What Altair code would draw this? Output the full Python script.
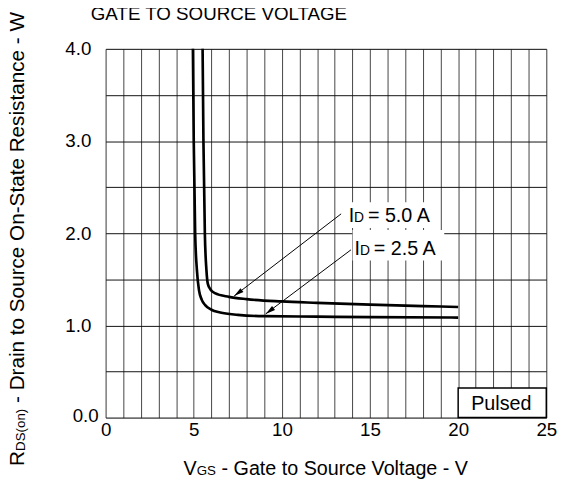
import altair as alt
import pandas as pd

# ---- data ----
vgs_25 = [4.95, 5.0, 5.08, 5.18, 5.3, 5.45, 5.65, 6.0, 6.5, 7.5, 9.0, 12.0, 15.0, 20.0]
rds_25 = [4.05, 3.0, 2.0, 1.6, 1.38, 1.28, 1.22, 1.17, 1.14, 1.115, 1.10, 1.095, 1.09, 1.085]
vgs_50 = [5.5, 5.55, 5.63, 5.72, 5.8, 5.95, 6.2, 7.0, 8.0, 10.0, 12.0, 15.0, 18.0, 20.0]
rds_50 = [4.05, 3.0, 2.0, 1.6, 1.45, 1.39, 1.35, 1.31, 1.285, 1.26, 1.245, 1.225, 1.21, 1.20]

x_grid = list(range(0, 26))
y_grid = [0, 0.5, 1, 1.5, 2, 2.5, 3, 3.5, 4]

# annotation anchors (data units)
arrow_x = [13.36, 13.92]
arrow_y = [2.21, 1.82]
arrow_x2 = [7.29, 9.08]
arrow_y2 = [1.318, 1.125]
arrow_angle = [232.6, 233.1]

label_names = ["5.0 A", "2.5 A"]
label_x = [13.79, 14.12]
label_y = [2.12, 1.768]
box_x = [13.68, 14.01]
box_x2 = [18.82, 19.21]
box_y = [2.337, 2.036]
box_y2 = [2.058, 1.704]

curves = pd.DataFrame(
    [{"vgs": v, "rds": r, "id": "2.5"} for v, r in zip(vgs_25, rds_25)]
    + [{"vgs": v, "rds": r, "id": "5.0"} for v, r in zip(vgs_50, rds_50)]
)
arrows = pd.DataFrame({"x": arrow_x, "y": arrow_y, "x2": arrow_x2, "y2": arrow_y2, "ang": arrow_angle})
labels = pd.DataFrame({"name": label_names, "x": label_x, "y": label_y,
                       "bx": box_x, "bx2": box_x2, "by": box_y, "by2": box_y2})
pulsed = pd.DataFrame({"x": [20], "x2": [25], "y": [0], "y2": [0.32], "tx": [22.45], "ty": [0.086], "t": ["Pulsed"]})
zero_label = pd.DataFrame({"x": [0], "y": [0], "t": ["0.0"]})

FONT = "Liberation Sans"
W, H = 447, 374

xs = alt.Scale(domain=[0, 25], nice=False, zero=False)
ys = alt.Scale(domain=[0, 4], nice=False, zero=False)
x_axis = alt.Axis(
    values=x_grid, grid=True, gridColor="#444", gridWidth=1, ticks=False, domain=False,
    labelExpr="datum.value % 5 == 0 ? datum.label : ''", title=None, labelOverlap=False,
    labelFont=FONT, labelFontSize=19, labelColor="black", labelPadding=3, labelFlush=False)
y_axis = alt.Axis(
    values=y_grid, grid=True, gridColor="#111", gridWidth=1, ticks=False, domain=False,
    labelExpr="datum.value % 1 == 0 && datum.value > 0 ? format(datum.value, '.1f') : ''", title=None,
    labelOverlap=False, labelFont=FONT, labelFontSize=19, labelColor="black", labelPadding=15, labelFlush=False)

def X(f):
    return alt.X(f, type="quantitative", scale=xs, axis=x_axis)

def Y(f):
    return alt.Y(f, type="quantitative", scale=ys, axis=y_axis)

base = alt.Chart(curves)

lines = base.mark_line(color="black", strokeWidth=2.7, interpolate="monotone", clip=True).encode(
    x=X("vgs"), y=Y("rds"), detail="id:N"
)

boxes = alt.Chart(labels).mark_rect(fill="white").encode(
    x=X("bx"), x2="bx2", y=Y("by"), y2="by2"
)
txt_I = alt.Chart(labels).mark_text(text="I", font=FONT, fontSize=20, align="left", baseline="alphabetic", color="black").encode(
    x=X("x"), y=Y("y"))
txt_D = alt.Chart(labels).mark_text(text="D", font=FONT, fontSize=14, align="left", baseline="alphabetic", dx=5.5, color="black").encode(
    x=X("x"), y=Y("y"))
txt_rest = alt.Chart(labels).transform_calculate(lab="'= ' + datum.name").mark_text(
    font=FONT, fontSize=20, align="left", baseline="alphabetic", dx=19.5, color="black").encode(
    x=X("x"), y=Y("y"), text=alt.Text("lab:N"))

arrow_lines = alt.Chart(arrows).mark_rule(color="black", strokeWidth=1).encode(
    x=X("x"), y=Y("y"), x2="x2", y2="y2")
arrow_heads = alt.Chart(arrows).mark_point(
    shape="M0,0 L-0.5,2 L0.5,2 Z", filled=True, color="black", opacity=1, size=100, strokeWidth=0
).encode(x=X("x2"), y=Y("y2"), angle=alt.Angle("ang:Q", scale=None))

pbox = alt.Chart(pulsed).mark_rect(fill="white", stroke="black", strokeWidth=1.5).encode(
    x=X("x"), x2="x2", y=Y("y"), y2="y2")
ptxt = alt.Chart(pulsed).mark_text(font=FONT, fontSize=20, align="center", baseline="alphabetic", color="black").encode(
    x=X("tx"), y=Y("ty"), text="t:N")

zlab = alt.Chart(zero_label).mark_text(font=FONT, fontSize=19, align="right", baseline="middle",
                                       dx=-7, dy=-2, color="black").encode(x=X("x"), y=Y("y"), text="t:N")

# titles built from pieces (with subscripts)
one = pd.DataFrame({"k": [0]})
def piece(text, size, x, y, dx=0, dy=0, angle=0):
    return alt.Chart(one).mark_text(text=text, font=FONT, fontSize=size, align="left", baseline="alphabetic",
                                    dx=dx, dy=dy, angle=angle, color="black").encode(x=alt.value(x), y=alt.value(y))

xt_x, xt_y = 186 - 107, 478 - 46
xtitle = [
    piece("V", 20, xt_x, xt_y),
    piece("GS", 13.5, xt_x, xt_y, dx=13.4, dy=0.5),
    piece("- Gate to Source Voltage - V", 20, xt_x, xt_y, dx=38.6),
]
yt_x, yt_y = 24 - 107, 469 - 46
ytitle = [
    piece("R", 21, yt_x, yt_y, angle=270),
    piece("DS(on)", 13.5, yt_x, yt_y, dx=15.2, dy=0.8, angle=270),
    piece("- Drain to Source On-State Resistance - W", 21, yt_x, yt_y, dx=63.8, angle=270),
]
title = piece("GATE TO SOURCE VOLTAGE", 19, 92 - 107, 17 - 46)

chart = alt.layer(
    boxes, pbox, lines, arrow_lines, arrow_heads, txt_I, txt_D, txt_rest, ptxt, zlab,
    *xtitle, *ytitle, title
).properties(
    width=W, height=H,
    autosize=alt.AutoSizeParams(type="none"),
    padding={"left": 99, "top": 38, "right": 21, "bottom": 70},
).configure_view(stroke="black", strokeWidth=2.7).configure(background="white")

chart.save("out.html", embed_options={"renderer": "svg", "actions": False})
